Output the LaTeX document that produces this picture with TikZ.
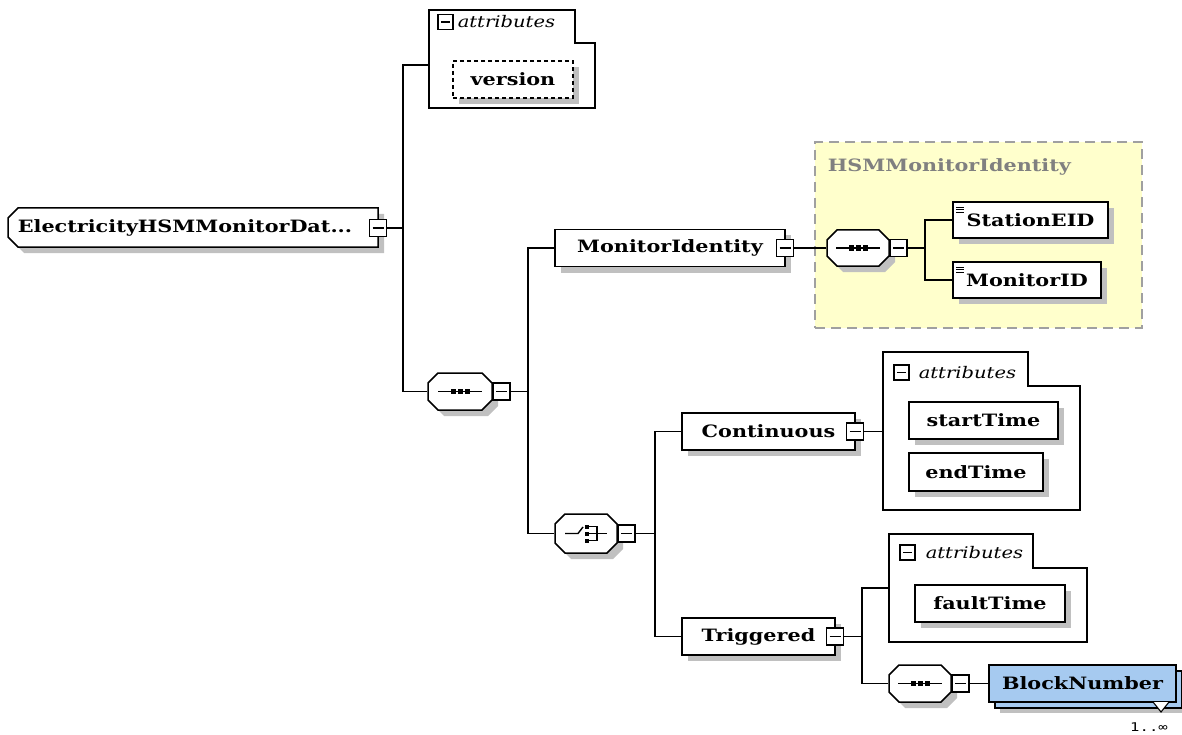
\documentclass[tikz,border=0pt]{standalone}
\usepackage{fontspec}
\newfontfamily\lab[FakeStretch=1.22]{DejaVu Serif}
\newfontfamily\smallf[FakeStretch=1.3]{DejaVu Sans Mono}
\usetikzlibrary{shadows}
\definecolor{shadowc}{RGB}{192,192,192}
\definecolor{grpfill}{RGB}{255,255,204}
\definecolor{grpline}{RGB}{160,160,160}
\definecolor{titlegray}{RGB}{128,128,128}
\definecolor{blockblue}{RGB}{166,202,240}
\newcommand\octshape[4]{%
  \fill[shadowc] (#1+16,#2+6) -- (#3-4,#2+6) -- (#3+6,#2+16) -- (#3+6,#4-4) -- (#3-4,#4+6) -- (#1+16,#4+6) -- (#1+6,#4-4) -- (#1+6,#2+16) -- cycle;
  \draw[fill=white] (#1+10,#2) -- (#3-10,#2) -- (#3,#2+10) -- (#3,#4-10) -- (#3-10,#4) -- (#1+10,#4) -- (#1,#4-10) -- (#1,#2+10) -- cycle;}
\newcommand\tabbox[6]{%
  \draw[fill=white] (#1,#2) -- (#3,#2) -- (#3,#4) -- (#5,#4) -- (#5,#6) -- (#1,#6) -- cycle;}
\newcommand\seqicon[1]{%
  \begin{scope}[shift={(#1.center)}]
    \draw[line width=1.4pt] (-22,0) -- (22,0);
    \foreach \d in {-7,0,7} \fill (\d-2.5,-2.5) rectangle (\d+2.5,2.5);
  \end{scope}}
\newcommand\choiceicon[1]{%
  \begin{scope}[shift={(#1.center)}]
    \draw[line width=1.4pt] (-21,0) -- (-8,0) -- (-3,-6.5);
    \foreach \d in {-7,0,7} \fill (-1,\d-2) rectangle (3,\d+2);
    \draw[line width=1.4pt] (3,-7) -- (11,-7) -- (11,7) -- (3,7);
    \draw[line width=1.4pt] (3,0) -- (21,0);
  \end{scope}}
\newcommand\simpleicon[1]{%
  \foreach \s in {6,8.5,11} \draw[line width=0.9pt] ([xshift=4pt,yshift=-\s pt]#1.north west) -- ++(8pt,0pt);}
\begin{document}
\begin{tikzpicture}[x=1pt,y=-1pt,line width=1.5pt,
  lbl/.style={inner sep=0pt, font=\lab\bfseries\fontsize{17}{20}\selectfont},
  elembase/.style={draw, fill=white, minimum height=37pt, inner sep=0pt, font=\lab\bfseries\fontsize{17}{20}\selectfont},
  elem/.style={elembase, general shadow={fill=shadowc, shadow xshift=6pt, shadow yshift=-6pt}},
  btn/.style={draw, fill=white, minimum size=17pt, inner sep=0pt, line width=1.4pt,
    path picture={\draw[line width=1.4pt] ([xshift=3pt]path picture bounding box.west) -- ([xshift=-3pt]path picture bounding box.east);}},
  tbtn/.style={btn, minimum size=15pt},
  attrtitle/.style={font=\lab\itshape\fontsize{16}{18}\selectfont, anchor=west, inner sep=0pt},
  area/.style={inner sep=0pt, draw=none},
]
\useasboundingbox (0,0) rectangle (1182,735);

% group
\node[draw=grpline, fill=grpfill, dash pattern=on 10pt off 6pt, line width=1.6pt, minimum width=327pt, minimum height=186pt, inner sep=0pt] (grp) at (978.5,235) {};
\node[lbl, text=titlegray, anchor=west] (grpt) at (827,167) {HSMMonitorIdentity};

% root
\fill[shadowc] (24,214) -- (384,214) -- (384,253) -- (24,253) -- (14,243) -- (14,224) -- cycle;
\draw[fill=white] (18,208) -- (378,208) -- (378,247) -- (18,247) -- (8,237) -- (8,218) -- cycle;
\node[lbl] (root) at (185,228) {ElectricityHSMMonitorDat...};
\node[btn] (rootb) at (378,228) {};
\coordinate (j1) at (403,228);

% attributes 1
\tabbox{429}{10}{575}{43}{595}{108}
\node[area, minimum width=166pt, minimum height=98pt] (attr1) at (512,59) {};
\node[tbtn] (attr1b) at (445.5,22) {};
\node[attrtitle] (attr1t) at (457,22) {attributes};
\node[elem, dash pattern=on 4pt off 3pt, minimum width=120pt] (version) at (513,79.5) {version};

% sequence 1
\octshape{428}{373}{492}{410}
\node[area, minimum width=64pt, minimum height=37pt] (seq1) at (460,391.5) {};
\seqicon{seq1}
\node[btn] (seq1b) at (501.5,391.5) {};
\coordinate (j2) at (528,391.5);

% MonitorIdentity
\node[elem, minimum width=230pt] (monid) at (670,248) {MonitorIdentity};
\node[btn] (monidb) at (785,248) {};

% sequence 2
\octshape{827}{230}{889}{266}
\node[area, minimum width=62pt, minimum height=36pt] (seq2) at (858,248) {};
\seqicon{seq2}
\node[btn] (seq2b) at (898.5,248) {};
\coordinate (j3) at (925,248);

\node[elem, minimum width=155pt, minimum height=36pt] (station) at (1030.5,220) {StationEID};
\simpleicon{station}
\node[elem, minimum width=148pt, minimum height=36pt] (monitorid) at (1027,280) {MonitorID};
\simpleicon{monitorid}

% choice
\octshape{555}{514}{617}{553}
\node[area, minimum width=62pt, minimum height=39pt] (choice) at (586,533.5) {};
\choiceicon{choice}
\node[btn] (choiceb) at (626.5,533.5) {};
\coordinate (j4) at (655,533.5);

% Continuous
\node[elem, minimum width=173pt] (cont) at (768.5,431.5) {Continuous};
\node[btn] (contb) at (855,431.5) {};
\tabbox{883}{352}{1028}{386}{1080}{510}
\node[area, minimum width=197pt, minimum height=158pt] (attr2) at (981.5,431) {};
\node[tbtn] (attr2b) at (901.5,372.5) {};
\node[attrtitle] (attr2t) at (918,372.5) {attributes};
\node[elem, minimum width=149pt] (start) at (983.5,420.5) {startTime};
\node[elem, minimum width=134pt, minimum height=38pt] (end) at (976,472) {endTime};

% Triggered
\node[elem, minimum width=153pt] (trig) at (758.5,636.5) {Triggered};
\node[btn] (trigb) at (835,636.5) {};
\coordinate (j5) at (862,636.5);
\tabbox{889}{534}{1033}{568}{1087}{642}
\node[area, minimum width=198pt, minimum height=108pt] (attr3) at (988,588) {};
\node[tbtn] (attr3b) at (907.5,552.5) {};
\node[attrtitle] (attr3t) at (925,552.5) {attributes};
\node[elem, minimum width=150pt] (fault) at (990,603.5) {faultTime};

% sequence 3
\octshape{889}{665}{951}{702}
\node[area, minimum width=62pt, minimum height=37pt] (seq3) at (920,683.5) {};
\seqicon{seq3}
\node[btn] (seq3b) at (960.5,683.5) {};

% BlockNumber
\node[draw, fill=blockblue, minimum width=187pt, minimum height=37pt, inner sep=0pt,
  general shadow={fill=shadowc, shadow xshift=5pt, shadow yshift=-5pt}] (blockback) at (1088.5,689.5) {};
\node[elembase, fill=blockblue, minimum width=187pt] (block) at (1082.5,683.5) {BlockNumber};
\draw[fill=white, line width=1.1pt] (1153,702) -- (1161,712) -- (1169,702);
\node[font=\smallf\fontsize{12}{14}\selectfont, inner sep=0pt] (occ) at (1149,727) {1..∞};

% connectors
\draw (rootb) -- (j1);
\draw (j1) |- ([yshift=-6pt]attr1.west);
\draw (j1) |- (seq1.west);
\draw (seq1b) -- (j2);
\draw (j2) |- (monid.west);
\draw (j2) |- (choice.west);
\draw (monidb) -- (seq2.west);
\draw (seq2b) -- (j3);
\draw (j3) |- (station.west);
\draw (j3) |- (monitorid.west);
\draw (choiceb) -- (j4);
\draw (j4) |- (cont.west);
\draw (j4) |- (trig.west);
\draw (contb) -- (contb -| attr2.west);
\draw (trigb) -- (j5);
\draw (j5) |- (attr3.west);
\draw (j5) |- (seq3.west);
\draw (seq3b) -- (block.west);
\end{tikzpicture}
\end{document}
